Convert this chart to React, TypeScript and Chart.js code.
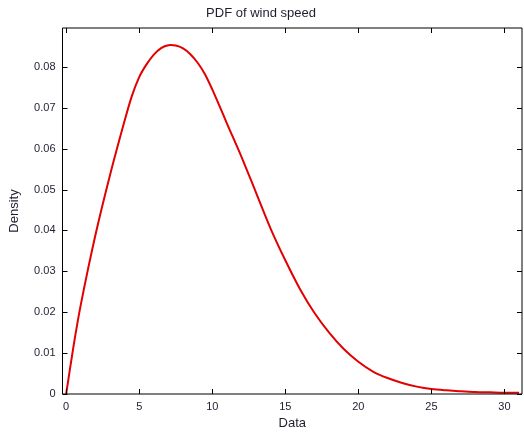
import React, { useEffect, useRef } from "react";
import { Chart, registerables } from "chart.js";

Chart.register(...registerables);

const xValues = [0, 0.5, 1, 2, 3, 4, 4.5, 5, 5.5, 6, 6.5, 7, 7.5, 8, 8.5, 9, 9.5, 10, 10.5, 11, 12, 13, 14, 15, 16, 17, 18, 19, 20, 21, 22, 23, 24, 25, 26, 27, 28, 29, 30, 31];
const density = [0, 0.0116, 0.0218, 0.0388, 0.0535, 0.0668, 0.0729, 0.0775, 0.0806, 0.0830, 0.0846, 0.0853, 0.0852, 0.0845, 0.0831, 0.0810, 0.0782, 0.0745, 0.0704, 0.0662, 0.0580, 0.0492, 0.0404, 0.0327, 0.0257, 0.0198, 0.0150, 0.0110, 0.0079, 0.0055, 0.0039, 0.0027, 0.0018, 0.0012, 0.0009, 0.0007, 0.0005, 0.0004, 0.0003, 0.0003];
const xTicks = [0, 5, 10, 15, 20, 25, 30];
const yTicks = [0, 0.01, 0.02, 0.03, 0.04, 0.05, 0.06, 0.07, 0.08];

const titleText = "PDF of wind speed";
const xTitle = "Data";
const yTitle = "Density";

const FONT = "'Liberation Sans', Arial, sans-serif";
const TEXT_COLOR = "#1e1e30";

const innerTicks = {
  id: "innerTicks",
  afterDraw(chart: any) {
    const { ctx, chartArea, scales } = chart;
    const { left, right, top, bottom } = chartArea;
    const len = 5;
    ctx.save();
    ctx.strokeStyle = "#000";
    ctx.lineWidth = 1;
    ctx.beginPath();
    ctx.rect(left, top, right - left, bottom - top);
    ctx.stroke();
    ctx.beginPath();
    xTicks.forEach((v) => {
      const px = Math.round(scales.x.getPixelForValue(v)) + 0.5;
      ctx.moveTo(px, bottom);
      ctx.lineTo(px, bottom - len);
      ctx.moveTo(px, top);
      ctx.lineTo(px, top + len);
    });
    yTicks.forEach((v) => {
      const py = Math.round(scales.y.getPixelForValue(v)) + 0.5;
      ctx.moveTo(left, py);
      ctx.lineTo(left + len, py);
      ctx.moveTo(right, py);
      ctx.lineTo(right - len, py);
    });
    ctx.stroke();
    ctx.restore();
  },
};

export default function App() {
  const ref = useRef<HTMLCanvasElement | null>(null);
  useEffect(() => {
    if (!ref.current) return;
    const chart = new Chart(ref.current, {
      type: "line",
      data: {
        datasets: [
          {
            data: xValues.map((x, i) => ({ x, y: density[i] })),
            borderColor: "rgb(226,0,0)",
            borderWidth: 2,
            pointRadius: 0,
            tension: 0.3,
            fill: false,
          },
        ],
      },
      options: {
        animation: false,
        responsive: false,
        maintainAspectRatio: false,
        layout: { padding: { left: 0, right: 2, top: 0, bottom: 0 } },
        plugins: {
          legend: { display: false },
          tooltip: { enabled: false },
          title: {
            display: true,
            text: titleText,
            color: TEXT_COLOR,
            font: { family: FONT, size: 13, weight: "normal" },
            padding: { top: 5.2, bottom: 7.2 },
          },
        },
        scales: {
          x: {
            type: "linear",
            min: -0.25,
            max: 31.2,
            grid: { display: false, drawTicks: false },
            border: { display: false },
            afterBuildTicks: (scale: any) => {
              scale.ticks = xTicks.map((v) => ({ value: v }));
            },
            afterFit: (scale: any) => {
              scale.height = 41;
            },
            ticks: {
              autoSkip: false,
              maxRotation: 0,
              padding: 6,
              color: TEXT_COLOR,
              font: { family: FONT, size: 11 },
              callback: (v: any) => String(v),
            },
            title: {
              display: true,
              text: xTitle,
              color: TEXT_COLOR,
              font: { family: FONT, size: 13 },
              padding: { top: 0, bottom: 4.2 },
            },
          },
          y: {
            type: "linear",
            min: 0,
            max: 0.0895,
            grid: { display: false, drawTicks: false },
            border: { display: false },
            afterBuildTicks: (scale: any) => {
              scale.ticks = yTicks.map((v) => ({ value: v }));
            },
            afterFit: (scale: any) => {
              scale.width = 62.5;
            },
            ticks: {
              autoSkip: false,
              padding: 7,
              color: TEXT_COLOR,
              font: { family: FONT, size: 11 },
              callback: (v: any) => (v === 0 ? "0" : Number(v).toFixed(2)),
            },
            title: {
              display: true,
              text: yTitle,
              color: TEXT_COLOR,
              font: { family: FONT, size: 13 },
              padding: { top: 6.2, bottom: 0 },
            },
          },
        },
      },
      plugins: [innerTicks],
    } as any);
    return () => chart.destroy();
  }, []);
  return (
    <div style={{ position: "fixed", left: 0, top: 0, width: 524, height: 435, background: "#fff" }}>
      <canvas ref={ref} width={524} height={435} style={{ width: 524, height: 435 }} />
    </div>
  );
}
